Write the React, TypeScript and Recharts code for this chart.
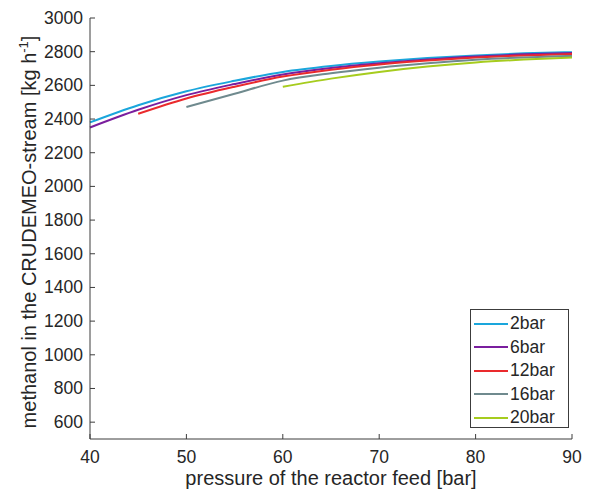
import React from 'react';
import { LineChart, Line, XAxis, YAxis } from 'recharts';

const pressure = [40, 45, 50, 55, 60, 65, 70, 75, 80, 85, 90];
const bar2 = [2380, 2482, 2565, 2627, 2680, 2715, 2741, 2762, 2778, 2790, 2797];
const bar6 = [2350, 2455, 2542, 2608, 2665, 2703, 2731, 2754, 2772, 2784, 2792];
const bar12 = [null, 2431, 2522, 2592, 2652, 2693, 2724, 2747, 2765, 2778, 2786];
const bar16 = [null, null, 2471, 2550, 2628, 2672, 2705, 2731, 2752, 2766, 2775];
const bar20 = [null, null, null, null, 2592, 2640, 2680, 2712, 2736, 2753, 2765];
const xTicks = [40, 50, 60, 70, 80, 90];
const yTicks = [600, 800, 1000, 1200, 1400, 1600, 1800, 2000, 2200, 2400, 2600, 2800, 3000];

const series = [
  { key: 'bar2', name: '2bar', color: '#1aa6dc', values: bar2 },
  { key: 'bar6', name: '6bar', color: '#7a1e9e', values: bar6 },
  { key: 'bar12', name: '12bar', color: '#ea2a2d', values: bar12 },
  { key: 'bar16', name: '16bar', color: '#6f8a8e', values: bar16 },
  { key: 'bar20', name: '20bar', color: '#a6cc1e', values: bar20 },
];

const data = pressure.map((p, i) => {
  const row: Record<string, number | null> = { p };
  series.forEach((s) => (row[s.key] = s.values[i]));
  return row;
});

const FONT = '"Liberation Sans", Arial, sans-serif';
const AXIS = '#3c3c3c';
const TEXT = '#262626';
const TICK = 5;
const MARGIN = 8;

const BottomTick = (props: any) => {
  const { x, y, payload } = props;
  const ay = y - MARGIN;
  return (
    <g>
      <line x1={x} x2={x} y1={ay} y2={ay - TICK} stroke={AXIS} />
      <text x={x} y={ay + 24} textAnchor="middle" fontSize={17.5} fill={TEXT} fontFamily={FONT}>
        {payload.value}
      </text>
    </g>
  );
};

const TopTick = (props: any) => {
  const { x, y } = props;
  const ay = y + MARGIN;
  return <line x1={x} x2={x} y1={ay} y2={ay + TICK} stroke={AXIS} />;
};

const LeftTick = (props: any) => {
  const { x, y, payload } = props;
  const ax = x + MARGIN;
  return (
    <g>
      <line x1={ax} x2={ax + TICK} y1={y} y2={y} stroke={AXIS} />
      <text x={ax - 7} y={y + 6} textAnchor="end" fontSize={17.5} fill={TEXT} fontFamily={FONT}>
        {payload.value}
      </text>
    </g>
  );
};

const RightTick = (props: any) => {
  const { x, y } = props;
  const ax = x - MARGIN;
  return <line x1={ax} x2={ax - TICK} y1={y} y2={y} stroke={AXIS} />;
};

const XLabel = () => (
  <text x={331} y={485} textAnchor="middle" fontSize={20} fill={TEXT} fontFamily={FONT}>
    pressure of the reactor feed [bar]
  </text>
);

const YLabel = () => (
  <text transform="translate(36,232) rotate(-90)" textAnchor="middle" fontSize={20} fill={TEXT} fontFamily={FONT}>
    methanol in the CRUDEMEO-stream [kg h
    <tspan dy={-8} fontSize={13}>-1</tspan>
    <tspan dy={8}>]</tspan>
  </text>
);

const LegendBox = () => (
  <div
    style={{
      position: 'absolute',
      left: 470,
      top: 309,
      boxSizing: 'border-box',
      border: `1px solid ${AXIS}`,
      background: '#fff',
      width: 99,
      height: 119,
      paddingTop: 2,
      fontFamily: FONT,
      fontSize: 17.5,
      color: TEXT,
    }}
  >
    {series.map((s) => (
      <div key={s.key} style={{ display: 'flex', alignItems: 'center', height: 23.5 }}>
        <div style={{ width: 34, height: 2, background: s.color, marginLeft: 3, marginRight: 2 }} />
        <span>{s.name}</span>
      </div>
    ))}
  </div>
);

export default function App() {
  return (
    <div style={{ position: 'absolute', left: 0, top: 0, width: 590, height: 495, background: '#fff' }}>
      <LineChart width={590} height={495} data={data} margin={{ top: 18, right: 18, left: 0, bottom: 0 }}>
        <XAxis
          dataKey="p"
          type="number"
          domain={[40, 90]}
          ticks={xTicks}
          height={56}
          tickSize={0}
          tickMargin={MARGIN}
          tick={BottomTick}
          axisLine={{ stroke: AXIS }}
          label={() => <XLabel />}
        />
        <XAxis
          xAxisId="top"
          orientation="top"
          dataKey="p"
          type="number"
          domain={[40, 90]}
          ticks={xTicks}
          height={0}
          tickSize={0}
          tickMargin={MARGIN}
          tick={TopTick}
          axisLine={{ stroke: AXIS }}
        />
        <YAxis
          type="number"
          domain={[500, 3000]}
          ticks={yTicks}
          width={90}
          tickSize={0}
          tickMargin={MARGIN}
          tick={LeftTick}
          axisLine={{ stroke: AXIS }}
          label={() => <YLabel />}
        />
        <YAxis
          yAxisId="right"
          orientation="right"
          type="number"
          domain={[500, 3000]}
          ticks={yTicks}
          width={0}
          tickSize={0}
          tickMargin={MARGIN}
          tick={RightTick}
          axisLine={{ stroke: AXIS }}
        />
        {series.map((s) => (
          <Line
            key={s.key}
            dataKey={s.key}
            name={s.name}
            stroke={s.color}
            strokeWidth={2}
            dot={false}
            type="monotone"
            isAnimationActive={false}
          />
        ))}
      </LineChart>
      <LegendBox />
    </div>
  );
}
